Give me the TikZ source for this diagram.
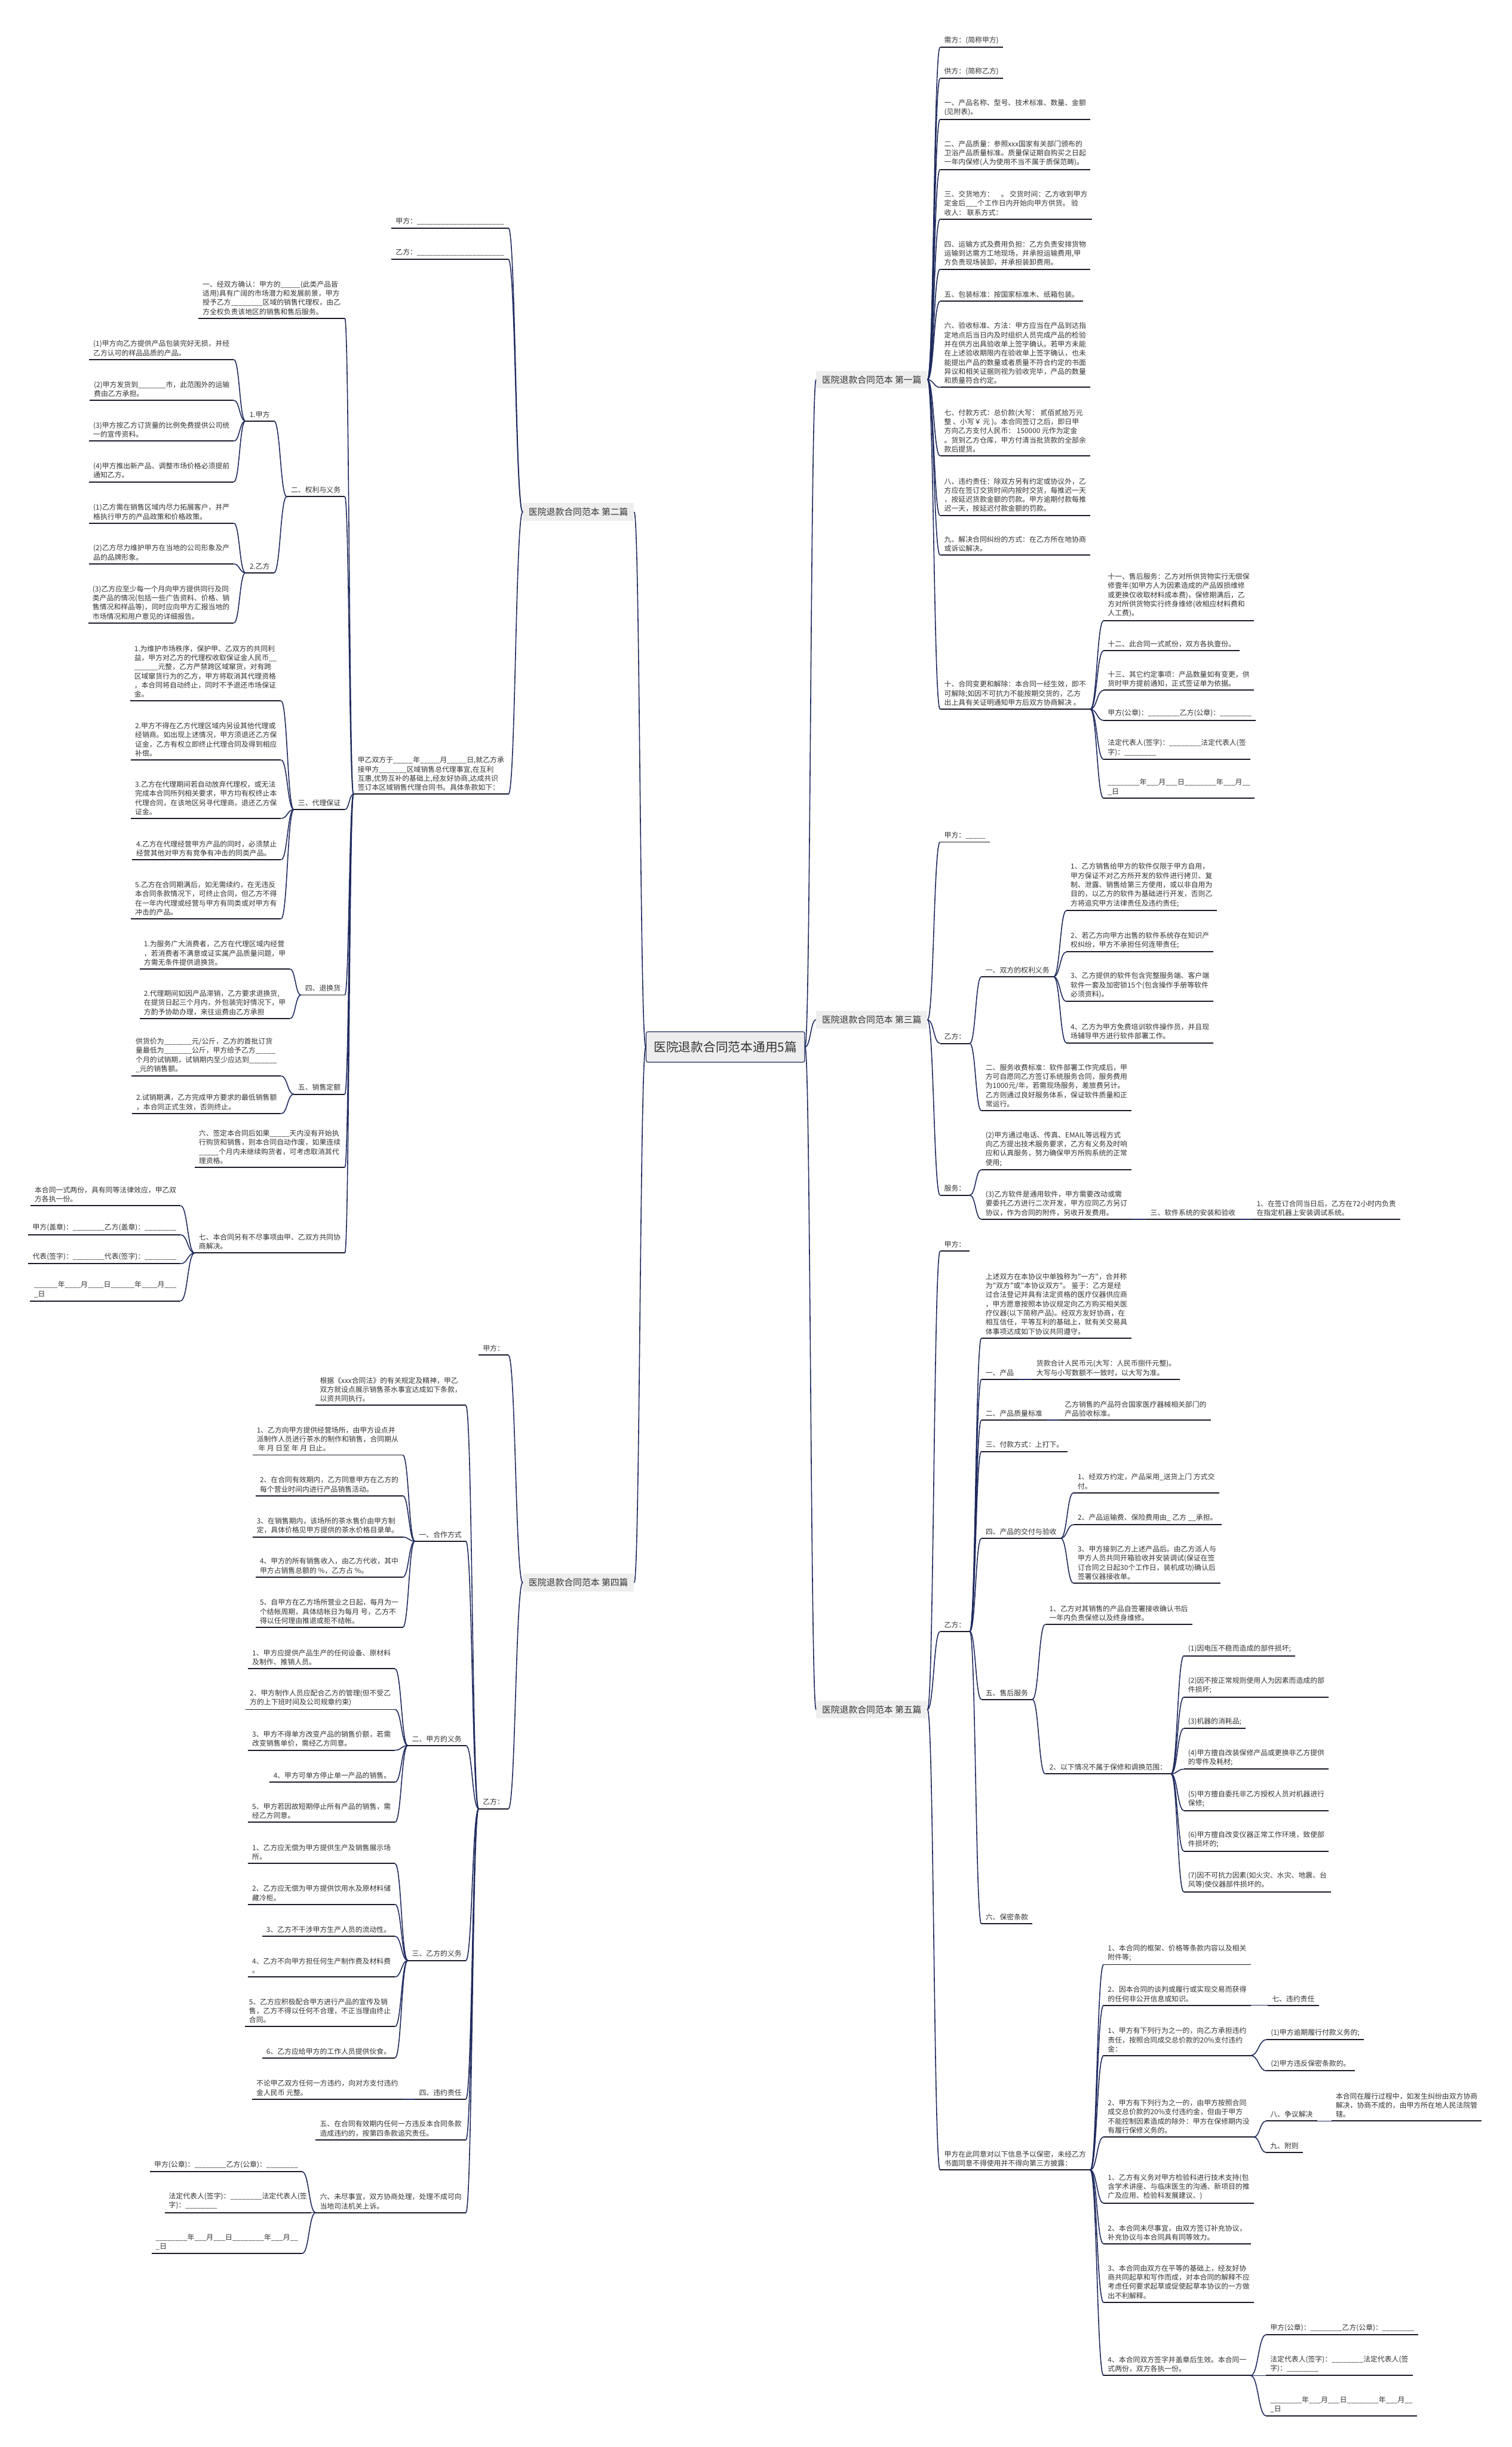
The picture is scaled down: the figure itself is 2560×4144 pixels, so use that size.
\documentclass[tikz,border=0pt]{standalone}
\usepackage{fontspec}
\newfontfamily\cjk{Noto Sans CJK SC}
\usetikzlibrary{calc}
\definecolor{navy}{HTML}{1E2A5E}
\definecolor{uline}{HTML}{1A1A2A}
\definecolor{txt}{HTML}{333333}
\definecolor{boxgray}{HTML}{EEEEEE}
\newcommand\usc[1]{\ifnum#1>0 \_\expandafter\usc\expandafter{\the\numexpr#1-1\relax}\fi}
\newcommand\lk[2]{\draw[conn] let \p1=(#1), \p2=(#2) in (\p1) .. controls ({0.5*\x1+0.5*\x2},\y1) and ({0.5*\x1+0.5*\x2},\y2) .. (\p2);}
\begin{document}
\begin{tikzpicture}[x=1pt,y=-1pt,
  ul/.style={draw=uline,line width=2pt},
  conn/.style={draw=navy,line width=1.6pt},
  lf/.style={font=\cjk\fontsize{12}{15.5}\selectfont,text=txt,align=left,inner xsep=7pt,inner ysep=5.5pt,
    append after command={(\tikzlastnode.south west) edge[ul] (\tikzlastnode.south east)}},
  rl/.style={lf,anchor=south west},
  ll/.style={lf,anchor=south east},
  brbox/.style={font=\cjk\fontsize{15}{18}\selectfont,text=txt,fill=boxgray,inner xsep=10pt,inner ysep=8pt},
  rootbox/.style={font=\cjk\fontsize{21}{25}\selectfont,text=txt,fill=boxgray,draw=navy,line width=1.2pt,rounded corners=3pt,inner xsep=13pt,inner ysep=16pt}
]
\fill[white] (0,0) rectangle (2560,4144);
\useasboundingbox (0,0) rectangle (2560,4144);

% centre and branches
\node[rootbox] (c) at (1228.5,1773) {医院退款合同范本通用5篇};
\node[brbox,anchor=west] (b1) at (1382,643) {医院退款合同范本 第一篇};
\node[brbox,anchor=west] (b3) at (1382,1727) {医院退款合同范本 第三篇};
\node[brbox,anchor=west] (b5) at (1382,2895) {医院退款合同范本 第五篇};
\node[brbox,anchor=east] (b2) at (1074,867) {医院退款合同范本 第二篇};
\node[brbox,anchor=east] (b4) at (1074,2680) {医院退款合同范本 第四篇};

% ===== 第一篇 =====
\node[rl] (r1) at (1592,80) {需方：(简称甲方)};
\node[rl] (r2) at (1592,133) {供方：(简称乙方)};
\node[rl] (r3) at (1592,202) {一、产品名称、型号、技术标准、数量、金额\\(见附表)。};
\node[rl] (r4) at (1592,287) {二、产品质量：参照xxx国家有关部门颁布的\\卫浴产品质量标准。质量保证期自购买之日起\\一年内保修(人为使用不当不属于质保范畴)。};
\node[rl] (r5) at (1592,371) {三、交货地方：　。 交货时间：乙方收到甲方\\定金后\usc{3}个工作日内开始向甲方供货。 验\\收人： 联系方式：};
\node[rl] (r6) at (1592,456) {四、运输方式及费用负担：乙方负责安排货物\\运输到达需方工地现场，并承担运输费用,甲\\方负责现场装卸，并承担装卸费用。};
\node[rl] (r7) at (1592,510) {五、包装标准：按国家标准木、纸箱包装。};
\node[rl] (r8) at (1592,656) {六、验收标准、方法：甲方应当在产品到达指\\定地点后当日内及时组织人员完成产品的检验\\并在供方出具验收单上签字确认。若甲方未能\\在上述验收期限内在验收单上签字确认，也未\\能提出产品的数量或者质量不符合约定的书面\\异议和相关证据则视为验收完毕，产品的数量\\和质量符合约定。};
\node[rl] (r9) at (1592,772) {七、付款方式：总价款(大写： 贰佰贰拾万元\\整 、小写￥ 元 )。本合同签订之后，即日甲\\方向乙方支付人民币： 150000 元作为定金\\。货到乙方仓库，甲方付清当批货款的全部余\\款后提货。};
\node[rl] (r10) at (1592,873) {八、违约责任：除双方另有约定或协议外，乙\\方应在签订交货时间内按时交货，每推迟一天\\，按延迟货款金额的罚款。甲方逾期付款每推\\迟一天，按延迟付款金额的罚款。};
\node[rl] (r11) at (1592,940) {九、解决合同纠纷的方式：在乙方所在地协商\\或诉讼解决。};
\node[rl] (r12) at (1592,1201) {十、合同变更和解除：本合同一经生效，即不\\可解除;如因不可抗力不能按期交货的，乙方\\出上具有关证明通知甲方后双方协商解决 。};
\node[rl] (r13) at (1869,1051) {十一、售后服务：乙方对所供货物实行无偿保\\修壹年(如甲方人为因素造成的产品毁损维修\\或更换仅收取材料成本费)，保修期满后，乙\\方对所供货物实行终身维修(收相应材料费和\\人工费)。};
\node[rl] (r14) at (1869,1102) {十二、此合同一式贰份，双方各执壹份。};
\node[rl] (r15) at (1869,1169) {十三、其它约定事项：产品数量如有变更，供\\货时甲方提前通知，正式签证单为依据。};
\node[rl] (r16) at (1869,1220) {甲方(公章)：\usc{8}乙方(公章)：\usc{8}};
\node[rl] (r17) at (1869,1286) {法定代表人(签字)：\usc{8}法定代表人(签\\字)：\usc{8}};
\node[rl] (r18) at (1869,1352) {\usc{8}年\usc{3}月\usc{3}日\usc{8}年\usc{3}月\usc{2}\\\_日};

% ===== 第三篇 =====
\node[rl] (r20) at (1592,1426) {甲方：\usc{5}};
\node[rl] (r21) at (1592,1767) {乙方：};
\node[rl] (r22) at (1662,1654) {一、双方的权利义务};
\node[rl] (r23) at (1806,1542) {1、乙方销售给甲方的软件仅限于甲方自用，\\甲方保证不对乙方所开发的软件进行拷贝、复\\制、泄露、销售给第三方使用，或以非自用为\\目的，以乙方的软件为基础进行开发，否则乙\\方将追究甲方法律责任及违约责任;};
\node[rl] (r24) at (1806,1612) {2、若乙方向甲方出售的软件系统存在知识产\\权纠纷，甲方不承担任何连带责任;};
\node[rl] (r25) at (1806,1696) {3、乙方提供的软件包含完整服务端、客户端\\软件一套及加密锁15个(包含操作手册等软件\\必须资料)。};
\node[rl] (r26) at (1806,1766) {4、乙方为甲方免费培训软件操作员，并且现\\场辅导甲方进行软件部署工作。};
\node[rl] (r27) at (1662,1881) {二、服务收费标准：软件部署工作完成后，甲\\方可自愿同乙方签订系统服务合同，服务费用\\为1000元/年，若需现场服务，差旅费另计。\\乙方则通过良好服务体系，保证软件质量和正\\常运行。};
\node[rl] (r28) at (1592,2024) {服务：};
\node[rl] (r29) at (1662,1981) {(2)甲方通过电话、传真、EMAIL等远程方式\\向乙方提出技术服务要求，乙方有义务及时响\\应和认真服务，努力确保甲方所购系统的正常\\使用;};
\node[rl] (r30) at (1662,2065) {(3)乙方软件是通用软件，甲方需要改动或需\\要委托乙方进行二次开发，甲方应同乙方另订\\协议，作为合同的附件，另收开发费用。};
\node[rl] (r31) at (1941,2065) {三、软件系统的安装和验收};
\node[rl] (r32) at (2121,2065) {1、在签订合同当日后，乙方在72小时内负责\\在指定机器上安装调试系统。};

% ===== 第五篇 =====
\node[rl] (r40) at (1592,2119) {甲方：};
\node[rl] (r41) at (1592,2763) {乙方：};
\node[rl] (r42) at (1662,2266) {上述双方在本协议中单独称为"一方"，合并称\\为"双方"或"本协议双方"。 鉴于：乙方是经\\过合法登记并具有法定资格的医疗仪器供应商\\，甲方愿意按照本协议规定向乙方购买相关医\\疗仪器(以下简称产品)。经双方友好协商，在\\相互信任，平等互利的基础上，就有关交易具\\体事项达成如下协议共同遵守。};
\node[rl] (r43) at (1662,2336) {一、产品};
\node[rl] (r44) at (1748,2336) {货款合计人民币元(大写：人民币捌仟元整)。\\大写与小写数额不一致时，以大写为准。};
\node[rl] (r45) at (1662,2405) {二、产品质量标准};
\node[rl] (r46) at (1796,2405) {乙方销售的产品符合国家医疗器械相关部门的\\产品验收标准。};
\node[rl] (r47) at (1662,2458) {三、付款方式：上打下。};
\node[rl] (r48) at (1662,2605) {四、产品的交付与验收};
\node[rl] (r49) at (1818,2528) {1、经双方约定，产品采用\_送货上门 方式交\\付。};
\node[rl] (r50) at (1818,2582) {2、产品运输费、保险费用由\_ 乙方 \_\_承担。};
\node[rl] (r51) at (1818,2681) {3、甲方接到乙方上述产品后。由乙方派人与\\甲方人员共同开箱验收并安装调试(保证在签\\订合同之日起30个工作日，装机成功)确认后\\签署仪器接收单。};
\node[rl] (r52) at (1662,2878) {五、售后服务};
\node[rl] (r53) at (1770,2751) {1、乙方对其销售的产品自签署接收确认书后\\一年内负责保修以及终身维修。};
\node[rl] (r54) at (1770,3004) {2、以下情况不属于保修和调换范围：};
\node[rl] (r55) at (2005,2804) {(1)因电压不稳而造成的部件损坏;};
\node[rl] (r56) at (2005,2874) {(2)因不按正常规则使用人为因素而造成的部\\件损坏;};
\node[rl] (r57) at (2005,2927) {(3)机器的消耗品;};
\node[rl] (r58) at (2005,2996) {(4)甲方擅自改装保修产品或更换非乙方提供\\的零件及耗材;};
\node[rl] (r59) at (2005,3066) {(5)甲方擅自委托非乙方授权人员对机器进行\\保修;};
\node[rl] (r60) at (2005,3135) {(6)甲方擅自改变仪器正常工作环境，致使部\\件损坏的;};
\node[rl] (r61) at (2005,3204) {(7)因不可抗力因素(如火灾、水灾、地震、台\\风等)使仪器部件损坏的。};
\node[rl] (r62) at (1662,3258) {六、保密条款};
\node[rl] (r63) at (1592,3675) {甲方在此同意对以下信息予以保密，未经乙方\\书面同意不得使用并不得向第三方披露：};
\node[rl] (r64) at (1869,3327) {1、本合同的框架、价格等条款内容以及相关\\附件等;};
\node[rl] (r65) at (1869,3396) {2、因本合同的谈判或履行或实现交易而获得\\的任何非公开信息或知识。};
\node[rl] (r66) at (2147,3396) {七、违约责任};
\node[rl] (r67) at (1869,3481) {1、甲方有下列行为之一的，向乙方承担违约\\责任，按照合同成交总价款的20\%支付违约\\金：};
\node[rl] (r68) at (2145,3454) {(1)甲方逾期履行付款义务的;};
\node[rl] (r69) at (2145,3507) {(2)甲方违反保密条款的。};
\node[rl] (r70) at (1869,3619) {2、甲方有下列行为之一的，由甲方按照合同\\成交总价款的20\%支付违约金，但由于甲方\\不能控制因素造成的除外：甲方在保修期内没\\有履行保修义务的。};
\node[rl] (r71) at (2144,3592) {八、争议解决};
\node[rl] (r72) at (2255,3592) {本合同在履行过程中，如发生纠纷由双方协商\\解决，协商不成的，由甲方所在地人民法院管\\辖。};
\node[rl] (r73) at (2144,3645) {九、附则};
\node[rl] (r74) at (1869,3731) {1、乙方有义务对甲方检验科进行技术支持(包\\含学术讲座、与临床医生的沟通、新项目的推\\广及应用、检验科发展建议、)};
\node[rl] (r75) at (1869,3800) {2、本合同未尽事宜，由双方签订补充协议，\\补充协议与本合同具有同等效力。};
\node[rl] (r76) at (1869,3899) {3、本合同由双方在平等的基础上，经友好协\\商共同起草和写作而成，对本合同的解释不应\\考虑任何要求起草或促使起草本协议的一方做\\出不利解释。};
\node[rl] (r77) at (1869,4023) {4、本合同双方签字并盖章后生效。本合同一\\式两份，双方各执一份。};
\node[rl] (r78) at (2144,3954) {甲方(公章)：\usc{8}乙方(公章)：\usc{8}};
\node[rl] (r79) at (2144,4023) {法定代表人(签字)：\usc{8}法定代表人(签\\字)：\usc{8}};
\node[rl] (r80) at (2144,4091) {\usc{8}年\usc{3}月\usc{3}日\usc{8}年\usc{3}月\usc{2}\\\_日};

% ===== 第二篇 =====
\node[ll] (l1) at (861,386) {甲方：\usc{22}};
\node[ll] (l2) at (861,439) {乙方：\usc{22}};
\node[ll] (l3) at (861,1345) {甲乙双方于\usc{5}年\usc{5}月\usc{5}日,就乙方承\\接甲方\usc{7}区域销售总代理事宜,在互利\\互惠,优势互补的基础上,经友好协商,达成共识\\签订本区域销售代理合同书。具体条款如下：};
\node[ll] (l4) at (584,539) {一、经双方确认：甲方的\usc{5}(此类产品皆\\适用)具有广阔的市场潜力和发展前景，甲方\\授予乙方\usc{8}区域的销售代理权，由乙\\方全权负责该地区的销售和售后服务。};
\node[ll] (l5) at (584,841) {二、权利与义务};
\node[ll] (l6) at (464,713) {1.甲方};
\node[ll] (l7) at (396,609) {(1)甲方向乙方提供产品包装完好无损，并经\\乙方认可的样品品质的产品。};
\node[ll] (l8) at (396,678) {(2)甲方发货到\usc{7}市，此范围外的运输\\费由乙方承担。};
\node[ll] (l9) at (396,747) {(3)甲方按乙方订货量的比例免费提供公司统\\一的宣传资料。};
\node[ll] (l10) at (396,816) {(4)甲方推出新产品、调整市场价格必须提前\\通知乙方。};
\node[ll] (l11) at (464,970) {2.乙方};
\node[ll] (l12) at (396,886) {(1)乙方需在销售区域内尽力拓展客户，并严\\格执行甲方的产品政策和价格政策。};
\node[ll] (l13) at (396,955) {(2)乙方尽力维护甲方在当地的公司形象及产\\品的品牌形象。};
\node[ll] (l14) at (396,1055) {(3)乙方应至少每一个月向甲方提供同行及同\\类产品的情况(包括一些广告资料、价格、销\\售情况和样品等)，同时应向甲方汇报当地的\\市场情况和用户意见的详细报告。};
\node[ll] (l15) at (584,1371) {三、代理保证};
\node[ll] (l16) at (476,1187) {1.为维护市场秩序，保护甲、乙双方的共同利\\益，甲方对乙方的代理权收取保证金人民币\usc{2}\\\usc{6}元整，乙方严禁跨区域窜货，对有跨\\区域窜货行为的乙方，甲方将取消其代理资格\\，本合同将自动终止，同时不予退还市场保证\\金。};
\node[ll] (l17) at (476,1287) {2.甲方不得在乙方代理区域内另设其他代理或\\经销商。如出现上述情况，甲方须退还乙方保\\证金，乙方有权立即终止代理合同及得到相应\\补偿。};
\node[ll] (l18) at (476,1386) {3.乙方在代理期间若自动放弃代理权，或无法\\完成本合同所列相关要求，甲方均有权终止本\\代理合同，在该地区另寻代理商，退还乙方保\\证金。};
\node[ll] (l19) at (476,1456) {4.乙方在代理经营甲方产品的同时，必须禁止\\经营其他对甲方有竞争有冲击的同类产品。};
\node[ll] (l20) at (476,1556) {5.乙方在合同期满后，如无需续约，在无违反\\本合同条款情况下，可终止合同，但乙方不得\\在一年内代理或经营与甲方有同类或对甲方有\\冲击的产品。};
\node[ll] (l21) at (584,1685) {四、退换货};
\node[ll] (l22) at (491,1641) {1.为服务广大消费者，乙方在代理区域内经营\\，若消费者不满意或证实属产品质量问题，甲\\方需无条件提供退换货。};
\node[ll] (l23) at (491,1725) {2.代理期间如因产品滞销，乙方要求退换货,\\在提货日起三个月内，外包装完好情况下，甲\\方酌予协助办理，来往运费由乙方承担};
\node[ll] (l24) at (584,1853) {五、销售定额};
\node[ll] (l25) at (476,1822) {供货价为\usc{7}元/公斤，乙方的首批订货\\量最低为\usc{7}公斤，甲方给予乙方\usc{5}\\个月的试销期，试销期内至少应达到\usc{7}\\\_元的销售额。};
\node[ll] (l26) at (476,1886) {2.试销期满，乙方完成甲方要求的最低销售额\\，本合同正式生效，否则终止。};
\node[ll] (l27) at (584,1977) {六、签定本合同后如果\usc{5}天内没有开始执\\行购货和销售，则本合同自动作废，如果连续\\\usc{5}个月内未继续购货者，可考虑取消其代\\理资格。};
\node[ll] (l28) at (584,2122) {七、本合同另有不尽事项由甲、乙双方共同协\\商解决。};
\node[ll] (l29) at (306,2042) {本合同一式两份，具有同等法律效应，甲乙双\\方各执一份。};
\node[ll] (l30) at (306,2091) {甲方(盖章)：\usc{8}乙方(盖章)：\usc{8}};
\node[ll] (l31) at (306,2140) {代表(签字)：\usc{8}代表(签字)：\usc{8}};
\node[ll] (l32) at (306,2203) {\usc{6}年\usc{4}月\usc{4}日\usc{6}年\usc{4}月\usc{3}\\\_日};

% ===== 第四篇 =====
\node[ll] (l40) at (861,2295) {甲方：};
\node[ll] (l41) at (861,3063) {乙方：};
\node[ll] (l42) at (789,2380) {根据《xxx合同法》的有关规定及精神，甲乙\\双方就设点展示销售茶水事宜达成如下条款，\\以资共同执行。};
\node[ll] (l43) at (789,2610) {一、合作方式};
\node[ll] (l44) at (682,2464) {1、乙方向甲方提供经营场所，由甲方设点并\\派制作人员进行茶水的制作和销售，合同期从\\\ 年 月 日至 年 月 日止。};
\node[ll] (l45) at (682,2533) {2、在合同有效期内，乙方同意甲方在乙方的\\每个营业时间内进行产品销售活动。};
\node[ll] (l46) at (682,2603) {3、在销售期内，该场所的茶水售价由甲方制\\定，具体价格见甲方提供的茶水价格目录单。};
\node[ll] (l47) at (682,2671) {4、甲方的所有销售收入，由乙方代收，其中\\甲方占销售总额的 \%，乙方占 \%。};
\node[ll] (l48) at (682,2756) {5、自甲方在乙方场所营业之日起，每月为一\\个结帐周期，具体结帐日为每月 号，乙方不\\得以任何理由推退或拒不结帐。};
\node[ll] (l49) at (789,2956) {二、甲方的义务};
\node[ll] (l50) at (669,2826) {1、甲方应提供产品生产的任何设备、原材料\\及制作、推销人员。};
\node[ll] (l51) at (669,2895) {2、甲方制作人员应配合乙方的管理(但不受乙\\方的上下班时间及公司规章约束)};
\node[ll] (l52) at (669,2964) {3、甲方不得单方改变产品的销售价额，若需\\改变销售单价，需经乙方同意。};
\node[ll] (l53) at (669,3018) {4、甲方可单方停止单一产品的销售。};
\node[ll] (l54) at (669,3086) {5、甲方若因故短期停止所有产品的销售，需\\经乙方同意。};
\node[ll] (l55) at (789,3320) {三、乙方的义务};
\node[ll] (l56) at (669,3156) {1、乙方应无偿为甲方提供生产及销售展示场\\所。};
\node[ll] (l57) at (669,3225) {2、乙方应无偿为甲方提供饮用水及原材料储\\藏冷柜。};
\node[ll] (l58) at (669,3279) {3、乙方不干涉甲方生产人员的流动性。};
\node[ll] (l59) at (669,3348) {4、乙方不向甲方担任何生产制作费及材料费\\。};
\node[ll] (l60) at (669,3432) {5、乙方应积极配合甲方进行产品的宣传及销\\售，乙方不得以任何不合理，不正当理由终止\\合同。};
\node[ll] (l61) at (669,3485) {6、乙方应给甲方的工作人员提供伙食。};
\node[ll] (l62) at (789,3555) {四、违约责任};
\node[rl] (l63) at (427,3555) {不论甲乙双方任何一方违约，向对方支付违约\\金人民币 元整。};
\node[ll] (l64) at (789,3624) {五、在合同有效期内任何一方违反本合同条款\\造成违约的，按第四条款追究责任。};
\node[ll] (l65) at (789,3747) {六、未尽事宜，双方协商处理，处理不成可向\\当地司法机关上诉。};
\node[ll] (l66) at (512,3678) {甲方(公章)：\usc{8}乙方(公章)：\usc{8}};
\node[ll] (l67) at (527,3747) {法定代表人(签字)：\usc{8}法定代表人(签\\字)：\usc{8}};
\node[ll] (l68) at (512,3816) {\usc{8}年\usc{3}月\usc{3}日\usc{8}年\usc{3}月\usc{2}\\\_日};

% ===== connectors =====
\foreach \b in {b1,b3,b5} {\lk{c.east}{\b.west}}
\foreach \b in {b2,b4} {\lk{c.west}{\b.east}}
% right
\foreach \i in {1,...,12} {\lk{b1.east}{r\i.south west}}
\foreach \i in {13,...,18} {\lk{r12.south east}{r\i.south west}}
\foreach \i in {20,21,28} {\lk{b3.east}{r\i.south west}}
\foreach \i in {22,27} {\lk{r21.south east}{r\i.south west}}
\foreach \i in {23,...,26} {\lk{r22.south east}{r\i.south west}}
\foreach \i in {29,30} {\lk{r28.south east}{r\i.south west}}
\lk{r30.south east}{r31.south west}
\lk{r31.south east}{r32.south west}
\foreach \i in {40,41,63} {\lk{b5.east}{r\i.south west}}
\foreach \i in {42,43,45,47,48,52,62} {\lk{r41.south east}{r\i.south west}}
\lk{r43.south east}{r44.south west}
\lk{r45.south east}{r46.south west}
\foreach \i in {49,50,51} {\lk{r48.south east}{r\i.south west}}
\foreach \i in {53,54} {\lk{r52.south east}{r\i.south west}}
\foreach \i in {55,...,61} {\lk{r54.south east}{r\i.south west}}
\foreach \i in {64,65,67,70,74,75,76,77} {\lk{r63.south east}{r\i.south west}}
\lk{r65.south east}{r66.south west}
\foreach \i in {68,69} {\lk{r67.south east}{r\i.south west}}
\foreach \i in {71,73} {\lk{r70.south east}{r\i.south west}}
\lk{r71.south east}{r72.south west}
\foreach \i in {78,79,80} {\lk{r77.south east}{r\i.south west}}
% left
\foreach \i in {1,2,3} {\lk{b2.west}{l\i.south east}}
\foreach \i in {4,5,15,21,24,27,28} {\lk{l3.south west}{l\i.south east}}
\foreach \i in {6,11} {\lk{l5.south west}{l\i.south east}}
\foreach \i in {7,...,10} {\lk{l6.south west}{l\i.south east}}
\foreach \i in {12,13,14} {\lk{l11.south west}{l\i.south east}}
\foreach \i in {16,...,20} {\lk{l15.south west}{l\i.south east}}
\foreach \i in {22,23} {\lk{l21.south west}{l\i.south east}}
\foreach \i in {25,26} {\lk{l24.south west}{l\i.south east}}
\foreach \i in {29,...,32} {\lk{l28.south west}{l\i.south east}}
\foreach \i in {40,41} {\lk{b4.west}{l\i.south east}}
\foreach \i in {42,43,49,55,62,64,65} {\lk{l41.south west}{l\i.south east}}
\foreach \i in {44,...,48} {\lk{l43.south west}{l\i.south east}}
\foreach \i in {50,...,54} {\lk{l49.south west}{l\i.south east}}
\foreach \i in {56,...,61} {\lk{l55.south west}{l\i.south east}}
\lk{l62.south west}{l63.south east}
\foreach \i in {66,67,68} {\lk{l65.south west}{l\i.south east}}
\end{tikzpicture}
\end{document}
